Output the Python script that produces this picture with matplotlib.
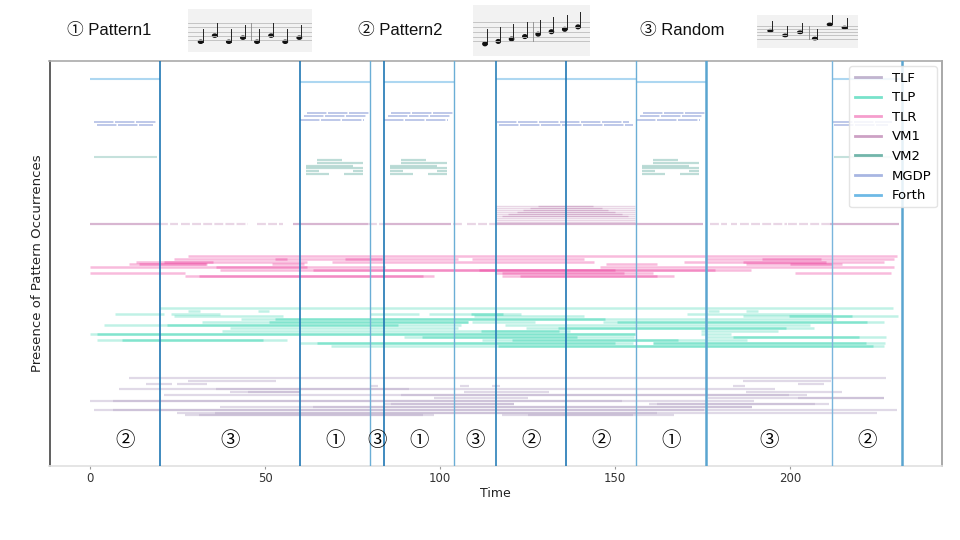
import matplotlib
matplotlib.use("Agg")
import matplotlib.pyplot as plt
from matplotlib.lines import Line2D
from matplotlib.patches import Ellipse

# ---------------- data ----------------
boundaries = [0, 20, 60, 80, 84, 104, 116, 136, 156, 176, 212, 232]
segment_labels = ["②", "③", "①", "③", "①", "③", "②", "②", "①", "③", "②"]
header_titles = ["① Pattern1", "② Pattern2", "③ Random"]
xticks = [0, 50, 100, 150, 200]

forth_p2 = [(0, 20), (116, 156), (212, 232)]
forth_p1 = [(60, 80), (84, 104), (156, 176)]

mgdp_p1_rows = [
    [(61.9, 80), (85.9, 104), (157.9, 176)],
    [(61.0, 79), (85.0, 103), (157.0, 175)],
    [(60.0, 78.2), (84.0, 102.2), (156.0, 174.2)],
]
mgdp_p2_rows = [
    [(1.0, 19.2), (116.2, 154.0), (212.2, 229.0)],
    [(2.1, 18.1), (116.8, 155.0), (212.6, 228.0)],
]

vm2_p2_row = [(1.0, 19.2), (212.6, 229.5)]
vm2_p1_rows = [
    [(64.8, 72.1), (88.8, 96.1), (160.8, 168.1)],
    [(64.8, 78.1), (88.8, 102.1), (160.8, 174.1)],
    [(61.7, 75.0), (85.7, 99.0), (157.7, 171.0)],
    [(61.7, 78.1), (85.7, 102.1), (157.7, 174.1)],
    [(61.7, 65.3), (75.0, 78.1), (85.7, 89.3), (99.0, 102.1), (157.7, 161.3), (171.0, 174.1)],
    [(61.7, 68.2), (72.6, 78.1), (85.7, 92.2), (96.6, 102.1), (157.7, 164.2), (168.6, 174.1)],
]

vm1_main_solid = [(0, 20), (57.9, 79.5), (84, 103.2), (115.7, 175.2), (211.4, 231.2)]
vm1_main_dashed = [(19.8, 25), (25.9, 45.2), (47.8, 53.3), (54, 55.2), (79.5, 84),
                   (103.8, 106.7), (107.6, 115.7), (177, 182), (183, 184.8),
                   (185.7, 199), (199.5, 211.4)]
vm1_stack_full = [[(116, 155.7)] for _ in range(9)]
vm1_stack_core = [(128.1, 143.8), (125.7, 146.2), (123.8, 148.1), (121.9, 150.0),
                  (119.5, 151.9), (117.6, 153.8)]

tlr_rows = [
    [(28, 230.6)],
    [(24, 105), (109, 141), (175.6, 229.8)],
    [(13, 62), (69, 144), (169.6, 226.8)],
    [(11, 33.3), (52, 61), (147.5, 162), (187.5, 214.7)],
    [(0, 84.2), (145.7, 229.8)],
    [(37, 188.8)],
    [(0, 27), (115.8, 160.8), (201.3, 228.8)],
    [(27, 98.2), (117.7, 166.7)],
]
tlr_dense = [
    [],
    [(52.8, 56.2), (72.8, 83.4), (192, 208.7)],
    [(21, 35), (186.5, 210.2)],
    [(14, 33), (200, 212)],
    [(36, 62)],
    [(63.8, 178.5), (111, 150)],
    [(117.7, 152.4)],
    [(31, 95), (122.9, 162)],
]

tlp_rows = [
    [(20, 229.5)],
    [(28, 31.3), (48, 51.2), (176.5, 179.7), (187.5, 190.9)],
    [(7, 21.2), (23, 37), (80, 94), (96.7, 123), (170.5, 211.7)],
    [(24, 55.2), (109.7, 141), (186.5, 230.7)],
    [(43, 213)],
    [(32, 108), (109, 127), (146.6, 226.8)],
    [(4, 106), (118.6, 205.7)],
    [(40, 105), (124.6, 206.9)],
    [(37.8, 137), (174.6, 196.6)],
    [(0, 155.8), (174.6, 183)],
    [(89.7, 155.5), (175.6, 227.5)],
    [(2, 56.2), (112, 187.8)],
    [(60, 155.2), (160.7, 227)],
    [(68.9, 226.8)],
]
tlp_dense = [
    [],
    [],
    [(108.8, 118)],
    [(199.6, 217.7)],
    [(52.8, 147)],
    [(51, 108), (150.5, 222)],
    [(22, 88)],
    [(133.6, 198.8)],
    [(111.8, 134)],
    [(2, 155.8)],
    [(94.7, 139), (183.6, 219.7)],
    [(9, 49.4), (120.6, 168)],
    [(64.8, 150), (160.7, 221.8)],
    [(116.6, 223.8)],
]

tlf_rows = [
    [(11, 227.5)],
    [(28, 53.2), (186.5, 211.7)],
    [(16, 23.3), (24.8, 33.3), (202.3, 209.6)],
    [(80, 82.2), (105.7, 108.3), (114.8, 117), (183.6, 187)],
    [(8.2, 195.8)],
    [(40, 60), (106.8, 131), (187.5, 214.7)],
    [(21, 204.9)],
    [(98.2, 125.2), (176.6, 226.8)],
    [(0, 189.8)],
    [(84, 121), (159.6, 211)],
    [(37, 189)],
    [(1, 230.6)],
    [(24.8, 224.8)],
    [(27, 98.2), (117.7, 166.7)],
]
tlf_dense = [
    [], [], [], [],
    [(36, 91)],
    [(45, 60)],
    [(88.7, 199.6)],
    [(202.3, 226.8)],
    [(6.4, 152)],
    [(86, 121), (162, 207)],
    [(63.8, 189)],
    [(6.4, 175.5)],
    [(35.8, 162)],
    [(31, 95), (125, 155)],
]

legend_labels = ["TLF", "TLP", "TLR", "VM1", "VM2", "MGDP", "Forth"]

# staff decorations (note steps on a staff)
staff_p1 = [0, 3, 0, 2, 0, 3, 0, 2]
staff_p2 = [0, 1, 2, 3, 4, 5, 6, 7]
staff_rand = [6, 3, 5, 1, 10, 8]

# ---------------- style / layout ----------------
C_TLF = "#9a84b0"
C_TLP = "#1fd0a8"
C_TLR = "#ec3e9c"
C_VM1 = "#b87aac"
C_VM2 = "#5aa99c"
C_MGDP = "#6f86cf"
C_FORTH = "#4aa8e0"

plt.rcParams["font.family"] = ["DejaVu Sans", "Noto Sans CJK JP"]

fig = plt.figure(figsize=(9.6, 5.4), dpi=100)
L, R, T, B = 49.5, 942, 61, 466
ax = fig.add_axes([L / 960, 1 - B / 540, (R - L) / 960, (B - T) / 540])
ax.set_xlim(-11.6, 243.4)
ax.set_ylim(B, T)


def draw_rows(rows, y0, dy, color, lw, alpha, ls="-"):
    for i, row in enumerate(rows):
        y = y0 + dy * i
        for s, e in row:
            ax.hlines(y, s, e, colors=color, lw=lw, alpha=alpha, linestyles=ls)


# Forth
draw_rows([forth_p2], 79, 0, C_FORTH, 1.5, 0.45)
draw_rows([forth_p1], 81.8, 0, C_FORTH, 1.5, 0.45)
# MGDP
draw_rows(mgdp_p1_rows, 113.3, 3.1, C_MGDP, 1.4, 0.45, ls=(0, (10, 0.8)))
draw_rows(mgdp_p2_rows, 122.3, 3.0, C_MGDP, 1.4, 0.45, ls=(0, (10, 0.8)))
# VM2
draw_rows([vm2_p2_row], 157, 0, C_VM2, 1.5, 0.35)
draw_rows(vm2_p1_rows, 159.7, 2.9, C_VM2, 1.6, 0.4)
# VM1
draw_rows(vm1_stack_full, 205.7, 2.0, C_VM1, 1.0, 0.3)
draw_rows([[c] for c in vm1_stack_core], 205.7, 2.0, C_VM1, 1.0, 0.4)
draw_rows([vm1_main_solid], 223.7, 0, C_VM1, 1.6, 0.55)
draw_rows([vm1_main_dashed], 223.7, 0, C_VM1, 1.6, 0.3, ls=(0, (4, 1)))
# TLR / TLP / TLF
draw_rows(tlr_rows, 255.7, 2.9, C_TLR, 1.8, 0.35)
draw_rows(tlr_dense, 255.7, 2.9, C_TLR, 1.8, 0.38)
draw_rows(tlp_rows, 307.7, 2.92, C_TLP, 1.8, 0.28)
draw_rows(tlp_dense, 307.7, 2.92, C_TLP, 1.8, 0.38)
draw_rows(tlf_rows, 377.7, 2.9, C_TLF, 1.6, 0.3)
draw_rows(tlf_dense, 377.7, 2.9, C_TLF, 1.6, 0.25)

# segment boundaries
vstyle = {20: ("#1f77b4", 1.2), 60: ("#1f77b4", 1.2), 80: ("#6baed6", 1.0),
          84: ("#1f77b4", 1.2), 104: ("#6baed6", 1.0), 116: ("#2a80b9", 1.2),
          136: ("#1f77b4", 1.2), 156: ("#6baed6", 1.0), 176: ("#5aa5d0", 1.8),
          212: ("#7ab5dc", 1.0), 232: ("#5aa5d0", 1.8)}
for b in boundaries[1:]:
    c, w = vstyle[b]
    ax.axvline(b, color=c, lw=w, zorder=3)

for i, lab in enumerate(segment_labels):
    xc = (boundaries[i] + boundaries[i + 1]) / 2
    ax.text(xc, 441, lab, ha="center", va="center", fontsize=14,
            family=["Noto Sans CJK JP", "DejaVu Sans"])

# axes style
ax.set_yticks([])
ax.set_xticks(xticks)
ax.tick_params(axis="x", length=2, pad=2, labelsize=8.5, color="#999999", labelcolor="#333333")
ax.set_xlabel("Time", fontsize=9, labelpad=2, color="#222222")
ax.set_ylabel("Presence of Pattern Occurrences", fontsize=9.5, labelpad=4, color="#222222")
ax.spines["left"].set_color("#444444")
ax.spines["top"].set_color("#aaaaaa")
ax.spines["right"].set_color("#999999")
ax.spines["bottom"].set_color("#e0e0e0")
for s in ax.spines.values():
    s.set_linewidth(1.2)

handles = [Line2D([], [], color=c, lw=2, alpha=a) for c, a in
           [(C_TLF, 0.6), (C_TLP, 0.6), (C_TLR, 0.5), (C_VM1, 0.7),
            (C_VM2, 0.85), (C_MGDP, 0.6), (C_FORTH, 0.8)]]
leg = ax.legend(handles, legend_labels, loc="upper right", fontsize=9.5,
                labelspacing=0.5, borderaxespad=0.4, framealpha=0.85,
                edgecolor="#e0e0e0")
leg.set_zorder(5)

# header
hdr_x = [67, 358, 640]
for x, t in zip(hdr_x, header_titles):
    fig.text(x / 960, 1 - 30 / 540, t, ha="left", va="center", fontsize=12,
             family=["Liberation Sans", "Noto Sans CJK JP"], color="#111111")


def draw_staff(x0, y0, x1, y1, notes, bars):
    sa = fig.add_axes([x0 / 960, 1 - y1 / 540, (x1 - x0) / 960, (y1 - y0) / 540])
    sa.set_facecolor("#f2f2f2")
    for s in sa.spines.values():
        s.set_visible(False)
    sa.set_xticks([])
    sa.set_yticks([])
    n = len(notes)
    sa.set_xlim(0, n + 0.8)
    sa.set_ylim(-6, 15)
    for k in range(5):
        sa.axhline(2 * k, color="#bdbdbd", lw=0.6)
    for i, st in enumerate(notes):
        xi = i + 0.9
        sa.add_patch(Ellipse((xi, st - 1), 0.32, 1.5, angle=0, color="#111111"))
        sa.plot([xi + 0.14, xi + 0.14], [st - 1, st + 5], color="#222222", lw=0.7)
    for bpos in bars:
        sa.plot([bpos, bpos], [0, 8], color="#888888", lw=0.6)


draw_staff(188, 9, 312, 52, staff_p1, [4.5])
draw_staff(473, 5, 590, 56, staff_p2, [4.5])
draw_staff(757, 15, 858, 48, staff_rand, [3.5])

fig.savefig("out.png", dpi=100, facecolor="white")
